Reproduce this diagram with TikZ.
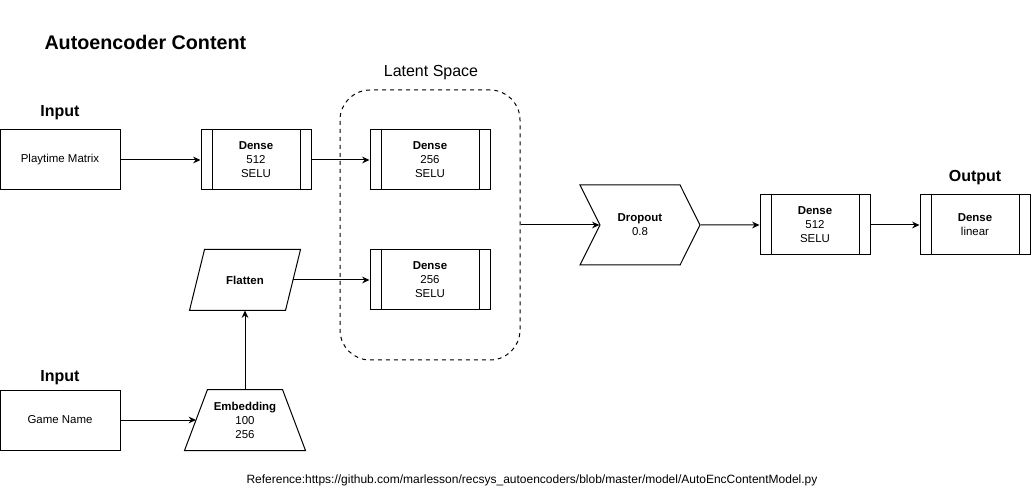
\documentclass[tikz,border=0pt]{standalone}
\usepackage{fontspec}
\setmainfont{Liberation Sans}
\usetikzlibrary{shapes.symbols, arrows.meta, positioning, calc}

\tikzset{
  txt/.style={font=\fontsize{8.6}{10.5}\selectfont, align=center, inner sep=0pt},
  plainbox/.style={draw, txt, minimum width=90pt, minimum height=45pt},
  densebox/.style={draw, txt, minimum width=82.5pt, minimum height=45pt,
    path picture={
      \draw ([xshift=8.25pt]path picture bounding box.north west) -- ([xshift=8.25pt]path picture bounding box.south west);
      \draw ([xshift=-8.25pt]path picture bounding box.north east) -- ([xshift=-8.25pt]path picture bounding box.south east);
    }},
  slantbox/.style={txt, minimum height=45pt},
  heading/.style={font=\fontsize{12}{14}\selectfont\bfseries, inner sep=0pt},
  flow/.style={-{Stealth[length=5.5pt,width=5pt]}, line width=0.75pt}
}

\begin{document}
\begin{tikzpicture}[x=0.75pt, y=-0.75pt, line width=0.75pt]
        \useasboundingbox (0,0) rectangle (1031,491);

        % Titles
        \node[font=\fontsize{14.8}{17}\selectfont\bfseries, inner sep=0pt, anchor=west] (title) at (44,42) {Autoencoder Content};
        \node[heading] (input1) at (60,113) {Input};
        \node[heading] (input2) at (60,378) {Input};
        \node[heading] (output) at (975,178) {Output};

        % Latent space
        \node[draw, dashed, rounded corners=22.5pt, minimum width=135pt, minimum height=202.5pt] (latent) at (430,225) {};
        \node[font=\fontsize{12}{14}\selectfont, inner sep=0pt] (latentlbl) at (431,73) {Latent Space};

        % Inputs
        \node[plainbox] (playtime) at (60,160) {Playtime Matrix};
        \node[plainbox] (gamename) at (60,420) {Game Name};

        % Layers
        \node[densebox] (dense1) at (256,160) {\textbf{Dense}\\512\\SELU};
        \node[densebox, minimum width=90pt] (dense2) at (430,160) {\textbf{Dense}\\256\\SELU};
        \node[densebox, minimum width=90pt] (dense3) at (430,280) {\textbf{Dense}\\256\\SELU};
        \node[slantbox, minimum width=71.25pt] (flatten) at (245,280) {\textbf{Flatten}};
        \node[slantbox, minimum width=72.75pt] (embed) at (245,420) {\textbf{Embedding}\\100\\256};
        \node[draw, txt, signal, signal from=west, signal to=east, signal pointer angle=127, minimum width=90pt, minimum height=60pt] (dropout) at (640,225) {\textbf{Dropout}\\0.8};
        \node[densebox] (dense4) at (815,225) {\textbf{Dense}\\512\\SELU};
        \node[densebox] (dense5) at (975,225) {\textbf{Dense}\\linear};

        % Parallelogram and trapezoid outlines
        \draw ($(flatten.north west)+(7.5,0)$) -- ($(flatten.north east)+(7.5,0)$) -- ($(flatten.south east)-(7.5,0)$) -- ($(flatten.south west)-(7.5,0)$) -- cycle;
        \draw ($(embed.north west)+(11.5,0)$) -- ($(embed.north east)-(11.5,0)$) -- ($(embed.south east)+(11.5,0)$) -- ($(embed.south west)-(11.5,0)$) -- cycle;

        % Reference
        \node[txt, font=\fontsize{9}{11}\selectfont, anchor=west] (ref) at (246,480) {Reference:https://github.com/marlesson/recsys\_autoencoders/blob/master/model/AutoEncContentModel.py};

        % Arrows
        \draw[flow] (playtime) -- (dense1);
        \draw[flow] (dense1) -- (dense2);
        \draw[flow] (flatten) -- (dense3);
        \draw[flow] (gamename) -- (embed);
        \draw[flow] (embed) -- (flatten);
        \draw[flow] (latent.east) -- (dropout.west);
        \draw[flow] (dropout) -- (dense4);
        \draw[flow] (dense4) -- (dense5);
    \end{tikzpicture}
\end{document}
